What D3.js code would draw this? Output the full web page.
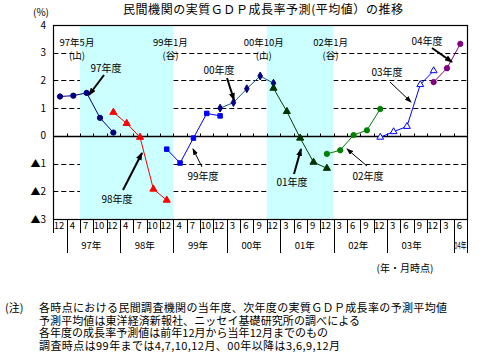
<!DOCTYPE html>
<html>
<head>
<meta charset="utf-8">
<script src="https://cdn.jsdelivr.net/npm/d3@7"></script>
<style>
  body { margin: 0; background: #fff; }
  svg text { font-family: "Noto Sans CJK JP", "Noto Sans", sans-serif; fill: #000; }
</style>
</head>
<body>
<div id="chart"></div>
<script>
// survey dates (year/month)
var categories = ["96/12","97/4","97/7","97/10","97/12","98/4","98/7","98/10","98/12",
  "99/4","99/7","99/10","99/12","00/3","00/6","00/9","00/12","01/3","01/6","01/9","01/12",
  "02/3","02/6","02/9","02/12","03/3","03/6","03/9","03/12","04/3","04/6"];

// forecasts for each fiscal year (%)
var fy97Dates = ["96/12","97/4","97/7","97/10","97/12"];
var fy97 = [1.42, 1.45, 1.55, 0.65, 0.12];
var fy98Dates = ["97/12","98/4","98/7","98/10","98/12"];
var fy98 = [0.85, 0.45, -0.05, -1.92, -2.32];
var fy99Dates = ["98/12","99/4","99/7","99/10","99/12"];
var fy99 = [-0.48, -0.98, -0.08, 0.81, 0.72];
var fy00Dates = ["99/12","00/3","00/6","00/9","00/12"];
var fy00 = [1.0, 1.2, 1.7, 2.16, 1.9];
var fy01Dates = ["00/12","01/3","01/6","01/9","01/12"];
var fy01 = [1.72, 0.88, -0.08, -0.95, -1.17];
var fy02Dates = ["01/12","02/3","02/6","02/9","02/12"];
var fy02 = [-0.65, -0.52, 0.03, 0.2, 0.97];
var fy03Dates = ["02/12","03/3","03/6","03/9","03/12"];
var fy03 = [-0.05, 0.15, 0.34, 1.85, 2.35];
var fy04Dates = ["03/12","04/3","04/6"];
var fy04 = [1.94, 2.44, 3.32];

var yTicks = [4, 3, 2, 1, 0, -1, -2, -3];
var gridValues = [3, 2, 1, -1, -2];

// business cycle: peak -> trough
var shadeFrom = ["97/7", "00/12"];
var shadeTo = ["99/4", "02/3"];
var cycleLabels = [["97年5月", "(山)"], ["99年1月", "(谷)"], ["00年10月", "(山)"], ["02年1月", "(谷)"]];

var yearLabels = ["97年", "98年", "99年", "00年", "01年", "02年", "03年", "04年"];
var yearFrom = ["97/4", "98/4", "99/4", "00/3", "01/3", "02/3", "03/3", "04/6"];
var yearTo = ["97/12", "98/12", "99/12", "00/12", "01/12", "02/12", "03/12", "04/6"];
var yearLines = ["97/4", "98/4", "99/4", "00/3", "01/3", "02/3", "03/3", "04/6"];

var notes = [
  "各時点における民間調査機関の当年度、次年度の実質ＧＤＰ成長率の予測平均値",
  "予測平均値は東洋経済新報社、ニッセイ基礎研究所の調べによる",
  "各年度の成長率予測値は前年12月から当年12月までのもの",
  "調査時点は99年までは4,7,10,12月、00年以降は3,6,9,12月"
];

var series = [
  {name: "97年度", dates: fy97Dates, values: fy97},
  {name: "98年度", dates: fy98Dates, values: fy98},
  {name: "99年度", dates: fy99Dates, values: fy99},
  {name: "00年度", dates: fy00Dates, values: fy00},
  {name: "01年度", dates: fy01Dates, values: fy01},
  {name: "02年度", dates: fy02Dates, values: fy02},
  {name: "03年度", dates: fy03Dates, values: fy03},
  {name: "04年度", dates: fy04Dates, values: fy04}
];

// styles per series
var styles = {
  "97年度": {line: "#000080", fill: "#000080", stroke: "#000080", symbol: d3.symbolCircle, size: 22},
  "98年度": {line: "#ff0000", fill: "#ff0000", stroke: "#ff0000", symbol: d3.symbolTriangle, size: 22},
  "99年度": {line: "#0000ff", fill: "#0000ff", stroke: "#0000ff", symbol: d3.symbolSquare, size: 20},
  "00年度": {line: "#105a8a", fill: "#000080", stroke: "#000080", symbol: d3.symbolDiamond, size: 18},
  "01年度": {line: "#004000", fill: "#003300", stroke: "#003300", symbol: d3.symbolTriangle, size: 22},
  "02年度": {line: "#008000", fill: "#008000", stroke: "#008000", symbol: d3.symbolCircle, size: 22},
  "03年度": {line: "#0000ff", fill: "#ffffff", stroke: "#0000ff", symbol: d3.symbolTriangle, size: 20},
  "04年度": {line: "#800080", fill: "#800080", stroke: "#800080", symbol: d3.symbolCircle, size: 22}
};

// arrow labels: text position, arrow from -> to, thick or thin
var arrows = [
  {text: "97年度", tx: 106, ty: 68, x1: 104, y1: 75, x2: 89, y2: 95, thick: true},
  {text: "98年度", tx: 117, ty: 199, x1: 123, y1: 190, x2: 142, y2: 153, thick: true},
  {text: "99年度", tx: 203, ty: 176, x1: 202, y1: 167, x2: 193, y2: 149, thick: false},
  {text: "00年度", tx: 219, ty: 70, x1: 227, y1: 78, x2: 234, y2: 100, thick: true},
  {text: "01年度", tx: 292, ty: 182, x1: 294, y1: 174, x2: 301, y2: 149, thick: true},
  {text: "02年度", tx: 368, ty: 176, x1: 367, y1: 166, x2: 347, y2: 149, thick: false},
  {text: "03年度", tx: 387, ty: 72, x1: 390, y1: 82, x2: 411, y2: 102, thick: false},
  {text: "04年度", tx: 427, ty: 41, x1: 432, y1: 48, x2: 452, y2: 62, thick: true}
];

var W = 491, H = 358;
var plotL = 53.3, plotR = 467, plotT = 25, plotB = 219;

var svg = d3.select("#chart").append("svg")
  .attr("width", W).attr("height", H);

var defs = svg.append("defs");
defs.append("marker").attr("id", "headThick")
  .attr("markerUnits", "userSpaceOnUse")
  .attr("markerWidth", 8).attr("markerHeight", 6)
  .attr("refX", 7).attr("refY", 3).attr("orient", "auto")
  .append("path").attr("d", "M0,0 L8,3 L0,6 z").attr("fill", "#000");
defs.append("marker").attr("id", "headThin")
  .attr("markerUnits", "userSpaceOnUse")
  .attr("markerWidth", 7).attr("markerHeight", 5)
  .attr("refX", 6).attr("refY", 2.5).attr("orient", "auto")
  .append("path").attr("d", "M0,0 L7,2.5 L0,5 z").attr("fill", "#000");

var x = d3.scaleBand().domain(categories).range([plotL, plotR]).paddingInner(0).paddingOuter(0);
var y = d3.scaleLinear().domain([-3, 4]).range([plotB, plotT]);
var cx = function(d) { return x(d) + x.bandwidth() / 2; };

// title
svg.append("text")
  .attr("x", 263).attr("y", 14)
  .attr("text-anchor", "middle")
  .attr("font-size", 12)
  .attr("textLength", 280)
  .text("民間機関の実質ＧＤＰ成長率予測(平均値）の推移");

svg.append("text").attr("x", 41).attr("y", 16).attr("text-anchor", "middle")
  .attr("font-size", 10).text("(%)");

// gridlines
svg.append("g").selectAll("line").data(gridValues).enter().append("line")
  .attr("x1", plotL).attr("x2", plotR)
  .attr("y1", function(d) { return Math.round(y(d)) + 0.5; })
  .attr("y2", function(d) { return Math.round(y(d)) + 0.5; })
  .attr("stroke", "#000").attr("stroke-dasharray", "5,3");

// shaded periods
svg.append("g").selectAll("rect").data(shadeFrom).enter().append("rect")
  .attr("x", function(d) { return x(d); })
  .attr("y", plotT)
  .attr("width", function(d, i) { return x(shadeTo[i]) - x(d); })
  .attr("height", plotB - plotT)
  .attr("fill", "#ccffff");

// zero line and its ticks
var y0 = Math.round(y(0)) + 0.5;
svg.append("line").attr("x1", plotL).attr("x2", plotR).attr("y1", y0).attr("y2", y0)
  .attr("stroke", "#000").attr("stroke-width", 1.3);
svg.append("g").selectAll("line").data(categories.slice(1)).enter().append("line")
  .attr("x1", function(d) { return Math.round(x(d)) + 0.5; })
  .attr("x2", function(d) { return Math.round(x(d)) + 0.5; })
  .attr("y1", y0).attr("y2", y0 - 3)
  .attr("stroke", "#000");

// series lines and markers
var line = d3.line()
  .x(function(d) { return cx(d[0]); })
  .y(function(d) { return y(d[1]); });

series.forEach(function(s) {
  var st = styles[s.name];
  var pts = s.dates.map(function(d, i) { return [d, s.values[i]]; });
  svg.append("path").datum(pts)
    .attr("d", line)
    .attr("fill", "none")
    .attr("stroke", st.line)
    .attr("stroke-width", 1);
  svg.append("g").selectAll("path").data(pts).enter().append("path")
    .attr("d", d3.symbol().type(st.symbol).size(st.size))
    .attr("transform", function(d) { return "translate(" + cx(d[0]) + "," + y(d[1]) + ")"; })
    .attr("fill", st.fill)
    .attr("stroke", st.stroke)
    .attr("stroke-width", 1);
});

// plot frame
svg.append("rect")
  .attr("x", Math.round(plotL) + 0.5).attr("y", plotT + 0.5)
  .attr("width", Math.round(plotR) - Math.round(plotL)).attr("height", plotB - plotT)
  .attr("fill", "none").attr("stroke", "#000").attr("stroke-width", 1.2);

// y tick labels
svg.append("g").selectAll("text").data(yTicks).enter().append("text")
  .attr("x", 46).attr("y", function(d) { return y(d); })
  .attr("dy", "0.35em")
  .attr("text-anchor", "end")
  .attr("font-size", 10)
  .text(function(d) { return d < 0 ? "▲" + Math.abs(d) : d; });

// business cycle labels
var cycleX = [x(shadeFrom[0]), x(shadeTo[0]), x(shadeFrom[1]), x(shadeTo[1])];
cycleLabels.forEach(function(c, i) {
  svg.append("text").attr("x", cycleX[i] - 3).attr("y", 43).attr("dy", "0.35em")
    .attr("text-anchor", "middle").attr("font-size", 9.5).text(c[0]);
  svg.append("text").attr("x", cycleX[i] - 3).attr("y", 56).attr("dy", "0.35em")
    .attr("text-anchor", "middle").attr("font-size", 9.5).text(c[1]);
});

// arrow annotations
arrows.forEach(function(a) {
  svg.append("line")
    .attr("x1", a.x1).attr("y1", a.y1).attr("x2", a.x2).attr("y2", a.y2)
    .attr("stroke", "#000")
    .attr("stroke-width", a.thick ? 2 : 1)
    .attr("marker-end", a.thick ? "url(#headThick)" : "url(#headThin)");
  svg.append("text").attr("x", a.tx).attr("y", a.ty).attr("dy", "0.35em")
    .attr("text-anchor", "middle").attr("font-size", 10).text(a.text);
});

// category table under the plot
var rowMid = 233, rowEnd = 253;
svg.append("g").selectAll("line").data(categories).enter().append("line")
  .attr("x1", function(d) { return Math.round(x(d)) + 0.5; })
  .attr("x2", function(d) { return Math.round(x(d)) + 0.5; })
  .attr("y1", plotB).attr("y2", rowMid)
  .attr("stroke", "#000");
svg.append("g").selectAll("line").data(yearLines).enter().append("line")
  .attr("x1", function(d) { return Math.round(x(d)) + 0.5; })
  .attr("x2", function(d) { return Math.round(x(d)) + 0.5; })
  .attr("y1", rowMid).attr("y2", rowEnd)
  .attr("stroke", "#000");
svg.append("line")
  .attr("x1", Math.round(plotR) + 0.5).attr("x2", Math.round(plotR) + 0.5)
  .attr("y1", plotB).attr("y2", rowEnd).attr("stroke", "#000");

svg.append("g").selectAll("text").data(categories).enter().append("text")
  .attr("x", function(d) { return cx(d) - 1; })
  .attr("y", 226).attr("dy", "0.35em")
  .attr("text-anchor", "middle")
  .attr("font-size", 9.5)
  .text(function(d) { return d.split("/")[1]; });

svg.append("g").selectAll("text").data(yearLabels).enter().append("text")
  .attr("x", function(d, i) { return (x(yearFrom[i]) + x(yearTo[i]) + x.bandwidth()) / 2 - (i === 7 ? 0 : 2); })
  .attr("y", 246).attr("dy", "0.35em")
  .attr("text-anchor", "middle")
  .attr("font-size", 9.5)
  .each(function(d, i) {
    if (i === 7) d3.select(this).attr("textLength", 12).attr("lengthAdjust", "spacingAndGlyphs");
  })
  .text(function(d) { return d; });

svg.append("text").attr("x", 405).attr("y", 268).attr("dy", "0.35em")
  .attr("text-anchor", "middle").attr("font-size", 10).text("(年・月時点)");

// notes
svg.append("text").attr("x", 5).attr("y", 308).attr("dy", "0.35em")
  .attr("font-size", 11).text("(注)");
var noteW = [408, 321, 289, 301];
svg.append("g").selectAll("text").data(notes).enter().append("text")
  .attr("x", 39)
  .attr("y", function(d, i) { return [308, 321, 333, 346][i]; })
  .attr("dy", "0.35em")
  .attr("font-size", 11)
  .attr("textLength", function(d, i) { return noteW[i]; })
  .text(function(d) { return d; });
</script>
</body>
</html>
